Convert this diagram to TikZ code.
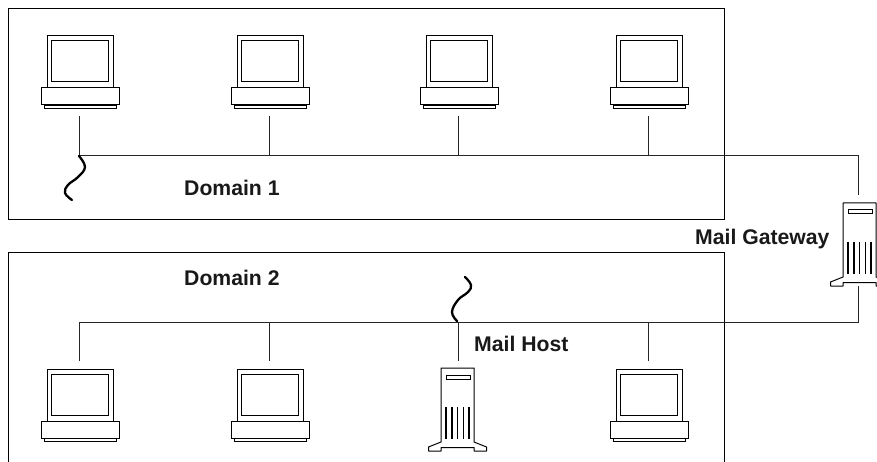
\documentclass[tikz,border=0pt]{standalone}
\usepackage{fontspec}
\setmainfont{Liberation Sans}
\tikzset{
  x=1pt,y=-1pt,
  wire/.style={line width=0.95pt,black!85},
  frame/.style={line width=1pt,black},
  squiggle/.style={line width=2.3pt,line cap=round,black},
  label/.style={font=\fontsize{21.2}{24}\selectfont\bfseries,inner sep=0pt,anchor=west,black!90},
  hostbox/.style={inner sep=0pt,minimum width=78pt,minimum height=80pt},
  serverbox/.style={inner sep=0pt,minimum width=33pt,minimum height=90pt},
  computer/.pic={
    % origin: top centre of the monitor
    \draw[line width=1pt] (-32.7,0) rectangle (32.7,52);
    \draw[line width=1pt] (-28.5,5) rectangle (28.5,46);
    \draw[line width=1pt,fill=white] (-39,52) rectangle (39,69);
    \draw[line width=1pt] (-36,69) -- (-36,72.5) -- (36,72.5) -- (36,69);
    \draw[line width=1.5pt] (-36,69.5) -- (36,69.5);
  },
  server/.pic={
    % origin: top centre of the tower
    \draw[line width=1pt,line join=round]
      (-16.5,74) -- (-16.5,0) -- (16.5,0) -- (16.5,74) -- (29,79) -- (29,83)
      -- (16.5,83) -- (16.5,79.5) -- (-16.5,79.5) -- (-16.5,83) -- (-29,83) -- (-29,79) -- cycle;
    \draw[line width=1pt] (-11.5,7) rectangle (12.5,11);
    \foreach \vx in {-11.5,-5.75,0,5.75,11.5}
      \draw[line width=1.5pt] (\vx,38.7) -- (\vx,71);
  }
}
\begin{document}
\begin{tikzpicture}
\useasboundingbox (0,0) rectangle (877,462);
\clip (0,0) rectangle (877,462);
% domains
\node[draw,frame,inner sep=0pt,minimum width=716pt,minimum height=211pt] (dom1) at (366.5,114) {};
\coordinate (d2a) at (8.5,462);
\coordinate (d2b) at (8.5,252.5);
\coordinate (d2c) at (724.5,252.5);
\coordinate (d2d) at (724.5,462);
\draw[frame] (d2a) -- (d2b) -- (d2c) -- (d2d);
% hosts (invisible anchors reach the connector ends)
\node[hostbox] (a1) at (79,76) {};
\node[hostbox] (a2) at (269,76) {};
\node[hostbox] (a3) at (458,76) {};
\node[hostbox] (a4) at (648,76) {};
\node[hostbox] (b1) at (79,401) {};
\node[hostbox] (b2) at (269,401) {};
\node[serverbox] (mh) at (458,406) {};
\node[hostbox] (b4) at (648,401) {};
\node[serverbox] (gw) at (858,240.5) {};
% icons
\pic at (80.3,36) {computer};
\pic at (270.3,36) {computer};
\pic at (459.3,36) {computer};
\pic at (649.3,36) {computer};
\pic at (80.3,369) {computer};
\pic at (270.3,369) {computer};
\pic at (649.3,369) {computer};
\pic at (457.5,368) {server};
\pic at (859.5,203) {server};
% buses
\coordinate (busA) at (79,155);
\coordinate (busAe) at (858,155);
\coordinate (busB) at (79,322);
\coordinate (busBe) at (858,322);
\draw[wire] (a1.south) -- (busA) -- (busAe) -- (gw.north);
\draw[wire] (a2.south) -- (a2.south |- busA);
\draw[wire] (a3.south) -- (a3.south |- busA);
\draw[wire] (a4.south) -- (a4.south |- busA);
\draw[wire] (b1.north) -- (busB) -- (busBe) -- (gw.south);
\draw[wire] (b2.north) -- (b2.north |- busB);
\draw[wire] (mh.north) -- (mh.north |- busB);
\draw[wire] (b4.north) -- (b4.north |- busB);
% squiggles
\draw[squiggle] plot[smooth,tension=0.7] coordinates {(79,156) (85,167) (78,177) (68,185) (65,193) (72,200)};
\draw[squiggle] plot[smooth,tension=0.7] coordinates {(457,321) (452,312) (458,300) (468,292) (471,285) (465,277)};
% labels
\node[label] (l1) at (184,188) {Domain 1};
\node[label] (l2) at (184,278) {Domain 2};
\node[label] (l3) at (474,344) {Mail Host};
\node[label] (l4) at (695,239) {Mail Gateway};
\end{tikzpicture}
\end{document}
